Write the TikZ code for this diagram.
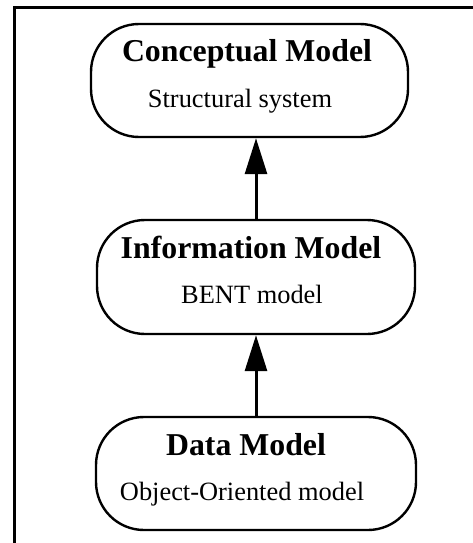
\documentclass[tikz,border=0pt]{standalone}
\usepackage{fontspec}
\setmainfont{Liberation Serif}
\usetikzlibrary{arrows.meta}

\begin{document}
\begin{tikzpicture}[x=1pt,y=-1pt,
            modelbox/.style={draw,line width=2.4pt,rounded corners=48pt,inner sep=0pt},
            modeltitle/.style={anchor=base,inner sep=0pt,font=\fontsize{31.8}{36}\selectfont\bfseries},
            modelsub/.style={anchor=base,inner sep=0pt,font=\fontsize{26.4}{30}\selectfont},
            uparrow/.style={draw,line width=3pt,-{Triangle[length=36pt,width=22pt]}}
          ]
          \useasboundingbox (0,0) rectangle (473,543);

          % frame
          \draw[line width=3pt] (473,8) -- (14,8) -- (14,543);

          \node[modelbox,minimum width=317pt,minimum height=113pt] (conc) at (249.5,80.5) {};
          \node[modeltitle] (conctitle) at (247,62) {Conceptual Model};
          \node[modelsub] (concsub) at (240,107) {Structural system};

          \node[modelbox,minimum width=318pt,minimum height=114pt] (info) at (256,277) {};
          \node[modeltitle] (infotitle) at (251,258) {Information Model};
          \node[modelsub] (infosub) at (252,303) {BENT model};

          \node[modelbox,minimum width=320pt,minimum height=113pt] (data) at (256,473.5) {};
          \node[modeltitle] (datatitle) at (246,455) {Data Model};
          \node[modelsub] (datasub) at (242,500) {Object-Oriented model};

          \draw[uparrow] (info.north) -- (info.north |- conc.south);
          \draw[uparrow] (data.north) -- (info.south);
          \end{tikzpicture}
\end{document}
